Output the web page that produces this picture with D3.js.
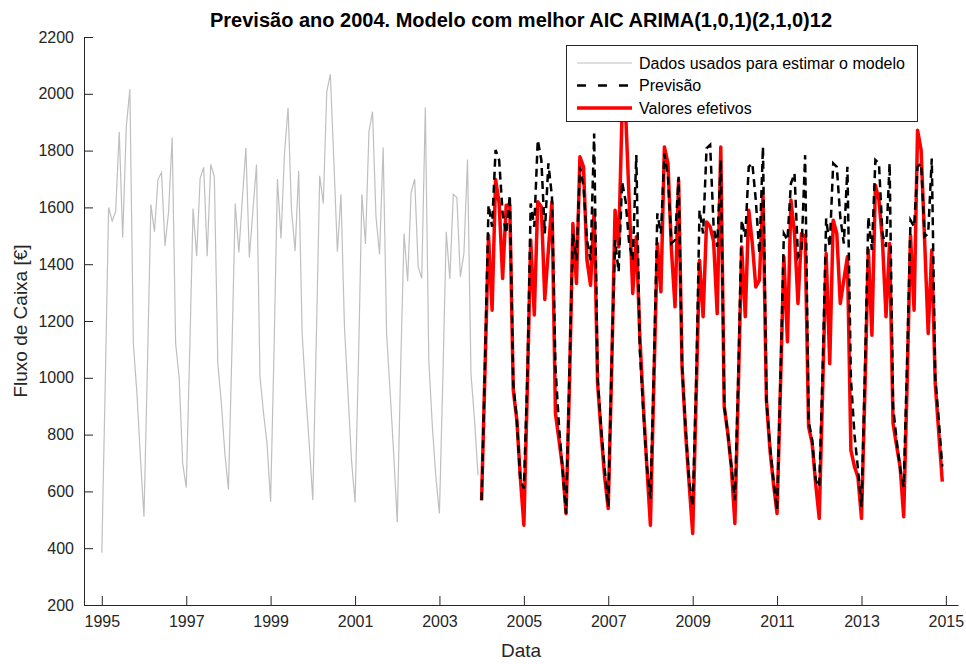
<!DOCTYPE html>
<html>
<head>
<meta charset="utf-8">
<script src="https://cdn.jsdelivr.net/npm/d3@7"></script>
<style>
    body { margin: 0; background: #fff; }
    svg { display: block; font-family: "Liberation Sans", Arial, sans-serif; }
    .axis path, .axis line { stroke: #262626; }
    .axis text { fill: #262626; font-size: 16px; }
</style>
</head>
<body>
<div class="chart"></div>
<script>
// monthly series, Jan 1995 .. Dec 2003 (data used to fit the model)
const anoInicio = 1995;
const dadosUsados = [
    384, 1000, 1600, 1552, 1585, 1866, 1493, 1884, 2017, 1121, 945, 720,
    511, 1060, 1610, 1514, 1698, 1723, 1464, 1585, 1846, 1121, 1000, 698,
    613, 1110, 1596, 1428, 1702, 1741, 1428, 1751, 1708, 1051, 910, 734,
    607, 1110, 1614, 1441, 1626, 1810, 1424, 1590, 1751, 1004, 875, 769,
    563, 1121, 1700, 1491, 1790, 1951, 1590, 1447, 1729, 1156, 945, 769,
    569, 1145, 1711, 1614, 2007, 2069, 1767, 1444, 1646, 1180, 945, 710,
    561, 1086, 1646, 1471, 1866, 1937, 1567, 1434, 1811, 1156, 945, 734,
    491, 1062, 1508, 1340, 1653, 1700, 1391, 1350, 1952, 1062, 828, 652,
    522, 1020, 1514, 1348, 1646, 1635, 1356, 1438, 1769, 1015, 851, 657
];

// Jan 2004 .. Dec 2014
const anoPrevisao = 2004;
const previsao = [
    569, 1080, 1608, 1532, 1802, 1766, 1579, 1508, 1643, 980, 851, 640,
    610, 1020, 1614, 1532, 1837, 1767, 1508, 1755, 1637, 1039, 830, 680,
    522, 1050, 1508, 1414, 1743, 1673, 1485, 1414, 1860, 1000, 820, 680,
    546, 1080, 1485, 1373, 1690, 1620, 1473, 1414, 1784, 1100, 880, 690,
    575, 1050, 1579, 1508, 1790, 1708, 1473, 1485, 1708, 1039, 820, 640,
    546, 1000, 1590, 1508, 1808, 1820, 1532, 1461, 1767, 900, 804, 690,
    569, 1030, 1555, 1497, 1743, 1755, 1626, 1438, 1813, 921, 760, 640,
    534, 1020, 1508, 1485, 1684, 1720, 1426, 1450, 1784, 850, 780, 640,
    616, 1050, 1561, 1461, 1755, 1743, 1567, 1473, 1743, 1000, 800, 680,
    546, 1050, 1567, 1450, 1767, 1755, 1508, 1461, 1755, 900, 780, 680,
    616, 1080, 1555, 1532, 1743, 1755, 1497, 1508, 1772, 1000, 850, 687
];
const valoresEfetivos = [
    569, 1050, 1502, 1238, 1698, 1614, 1350, 1608, 1608, 957, 851, 651,
    481, 980, 1485, 1221, 1620, 1602, 1276, 1450, 1620, 875, 781, 687,
    522, 1000, 1543, 1332, 1778, 1743, 1414, 1326, 1590, 980, 804, 651,
    540, 1050, 1590, 1461, 1940, 1930, 1626, 1297, 1497, 1150, 900, 690,
    481, 1000, 1473, 1303, 1813, 1755, 1450, 1250, 1696, 1039, 804, 628,
    452, 950, 1414, 1215, 1549, 1532, 1480, 1226, 1813, 898, 804, 687,
    487, 980, 1461, 1215, 1590, 1473, 1320, 1344, 1643, 921, 745, 628,
    522, 990, 1426, 1127, 1626, 1508, 1262, 1508, 1497, 828, 769, 628,
    505, 980, 1438, 1050, 1555, 1508, 1262, 1344, 1426, 745, 687, 651,
    505, 980, 1450, 1150, 1678, 1626, 1485, 1215, 1473, 839, 760, 687,
    511, 1000, 1502, 1238, 1872, 1802, 1485, 1156, 1450, 980, 804, 634
];

const xTickYears = [1995, 1997, 1999, 2001, 2003, 2005, 2007, 2009, 2011, 2013, 2015];
const yTicks = [200, 400, 600, 800, 1000, 1200, 1400, 1600, 1800, 2000, 2200];
const legenda = ["Dados usados para estimar o modelo", "Previsão", "Valores efetivos"];

const W = 966, H = 664;
const margin = { top: 37, right: 8, bottom: 59, left: 84 };

const svg = d3.select(".chart")
    .append("svg")
    .attr("width", W)
    .attr("height", H);

const xScale = d3.scaleTime()
    .domain([new Date(1994, 6, 31), new Date(2015, 3, 16)])
    .range([margin.left, W - margin.right]);

const yScale = d3.scaleLinear()
    .domain([200, 2200])
    .range([H - margin.bottom, margin.top]);

const toSeries = (values, ano) => values.map((v, i) => ({ date: new Date(ano, i, 1), value: v }));

const line = d3.line()
    .x(d => xScale(d.date))
    .y(d => yScale(d.value));

const plot = svg.append("g").attr("class", "series");

plot.append("path")
    .datum(toSeries(dadosUsados, anoInicio))
    .attr("d", line)
    .attr("fill", "none")
    .attr("stroke", "#bfbfbf")
    .attr("stroke-width", 1.2);

plot.append("path")
    .datum(toSeries(valoresEfetivos, anoPrevisao))
    .attr("d", line)
    .attr("fill", "none")
    .attr("stroke", "#ff0000")
    .attr("stroke-width", 3.5)
    .attr("stroke-linejoin", "round");

plot.append("path")
    .datum(toSeries(previsao, anoPrevisao))
    .attr("d", line)
    .attr("fill", "none")
    .attr("stroke", "#000")
    .attr("stroke-width", 2.5)
    .attr("stroke-dasharray", "8,5");

// axes (ticks pointing inwards, no box)
const xAxis = d3.axisBottom(xScale)
    .tickValues(xTickYears.map(y => new Date(y, 0, 1)))
    .tickFormat(d3.timeFormat("%Y"))
    .tickSizeInner(-9)
    .tickSizeOuter(0)
    .tickPadding(11);

svg.append("g")
    .attr("class", "x axis")
    .attr("transform", `translate(0, ${H - margin.bottom})`)
    .call(xAxis);

const yAxis = d3.axisLeft(yScale)
    .tickValues(yTicks)
    .tickFormat(d3.format("d"))
    .tickSizeInner(-9)
    .tickSizeOuter(0)
    .tickPadding(10);

svg.append("g")
    .attr("class", "y axis")
    .attr("transform", `translate(${margin.left}, 0)`)
    .call(yAxis);

// titles
svg.append("text")
    .attr("x", (margin.left + W - margin.right) / 2)
    .attr("y", 27)
    .attr("text-anchor", "middle")
    .style("font-size", "20px")
    .style("font-weight", "bold")
    .style("fill", "#000")
    .text("Previsão ano 2004. Modelo com melhor AIC ARIMA(1,0,1)(2,1,0)12");

svg.append("text")
    .attr("x", (margin.left + W - margin.right) / 2)
    .attr("y", 657)
    .attr("text-anchor", "middle")
    .style("font-size", "19px")
    .style("fill", "#262626")
    .text("Data");

svg.append("text")
    .attr("transform", `translate(27, ${(margin.top + H - margin.bottom) / 2}) rotate(-90)`)
    .attr("text-anchor", "middle")
    .style("font-size", "19px")
    .style("fill", "#262626")
    .text("Fluxo de Caixa [€]");

// legend
const leg = svg.append("g").attr("class", "legend");

leg.append("rect")
    .attr("x", 566.5)
    .attr("y", 45.5)
    .attr("width", 351)
    .attr("height", 76)
    .attr("fill", "#fff")
    .attr("stroke", "#262626")
    .attr("stroke-width", 1);

const legStyles = [
    { stroke: "#bfbfbf", width: 1.2, dash: null },
    { stroke: "#000", width: 2.5, dash: "9,12" },
    { stroke: "#ff0000", width: 3.5, dash: null }
];

legenda.forEach((label, i) => {
    const y = 63 + i * 22.5;
    leg.append("line")
        .attr("x1", 577)
        .attr("x2", 632)
        .attr("y1", y)
        .attr("y2", y)
        .attr("stroke", legStyles[i].stroke)
        .attr("stroke-width", legStyles[i].width)
        .attr("stroke-dasharray", legStyles[i].dash);
    leg.append("text")
        .attr("x", 639)
        .attr("y", y)
        .attr("dy", "0.35em")
        .style("font-size", "16px")
        .style("fill", "#000")
        .text(label);
});
</script>
</body>
</html>
